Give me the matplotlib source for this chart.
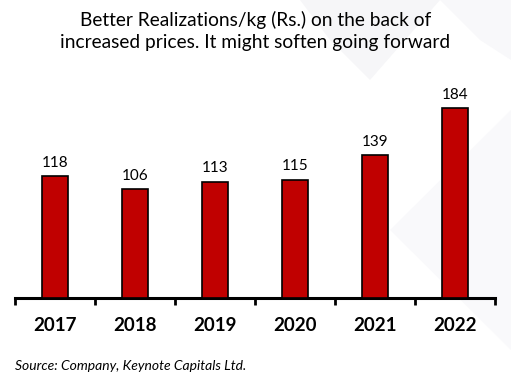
import matplotlib.pyplot as plt
import numpy as np
from matplotlib.patches import Polygon

years = ["2017", "2018", "2019", "2020", "2021", "2022"]
values = [118, 106, 113, 115, 139, 184]

plt.rcParams['font.family'] = ['Lato', 'DejaVu Sans']

fig = plt.figure(figsize=(5.11, 3.87), dpi=100)
W, H = 511, 387

# faint watermark diamonds in the background (pixel coords, y down)
def px_poly(pts, color):
    pts = [(px / W, 1 - py / H) for px, py in pts]
    fig.patches.append(Polygon(pts, closed=True, transform=fig.transFigure,
                               facecolor=color, edgecolor="none", zorder=-5))

px_poly([(300, 0), (440, 0), (370, 80), (330, 40)], "#f6f6f8")
px_poly([(440, 0), (511, 0), (511, 60), (480, 40)], "#f8f8fa")
px_poly([(390, 230), (511, 110), (511, 350)], "#f9f9fb")

# axes: x 15..495, y bottom at 298, top at 92
ax = fig.add_axes([15 / W, 1 - 298 / H, 480 / W, (298 - 92) / H])
ax.set_zorder(1)

x = np.arange(len(years))
ax.bar(x, values, width=0.33, color="#C00000", edgecolor="black", linewidth=1.2, zorder=3)
for xi, v in zip(x, values):
    ax.text(xi, v + 6, str(v), ha="center", va="bottom", fontsize=11, color="black")

ax.set_xlim(-0.5, len(years) - 0.5)
ax.set_ylim(0, 200)
ax.set_yticks([])
for s in ["top", "right", "left"]:
    ax.spines[s].set_visible(False)
ax.spines["bottom"].set_linewidth(2.2)
ax.set_xticks(x)
ax.set_xticklabels(years, fontsize=13.5, fontweight="bold")
ax.tick_params(axis="x", which="major", length=0, pad=14)
ax.set_xticks(np.arange(-0.5, len(years)), minor=True)
ax.tick_params(axis="x", which="minor", length=5, width=2, direction="out")
ax.patch.set_alpha(0)

fig.text(0.5, 1 - 31 / H, "Better Realizations/kg (Rs.) on the back of\nincreased prices. It might soften going forward",
         ha="center", va="center", fontsize=13.8, linespacing=1.3)
fig.text(15 / W, 1 - 366 / H, "Source: Company, Keynote Capitals Ltd.", ha="left", va="center",
         fontsize=10, style="italic")

fig.savefig("out.png", dpi=100)
